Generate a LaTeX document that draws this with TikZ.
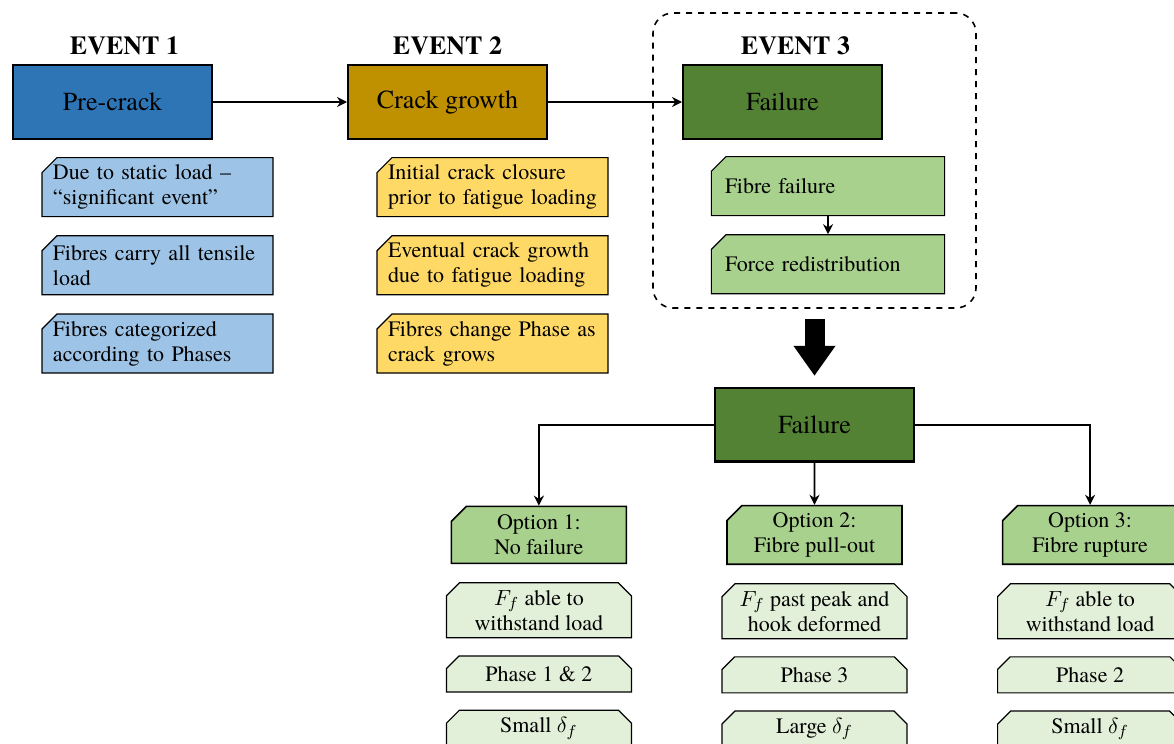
\documentclass[tikz,border=0pt]{standalone}
\usepackage{fontspec}
\setmainfont{texgyretermes}[Extension=.otf, UprightFont=*-regular, BoldFont=*-bold,
  ItalicFont=*-italic, BoldItalicFont=*-bolditalic]
\usepackage{xcolor}
\usepackage{tikz}
\usetikzlibrary{positioning,shapes.misc,arrows.meta,calc}

\definecolor{evblue}{HTML}{2E75B6}
\definecolor{evgold}{HTML}{BF9000}
\definecolor{evgreen}{HTML}{548235}
\definecolor{noteblue}{HTML}{9DC3E6}
\definecolor{noteyellow}{HTML}{FFD966}
\definecolor{notegreen}{HTML}{A9D18E}
\definecolor{itemgreen}{HTML}{E2F0D9}

\begin{document}
\begin{tikzpicture}[
  event/.style={rectangle, draw, line width=1.2pt, minimum width=99.3pt, minimum height=36.8pt,
                font=\fontsize{13}{15.6}\selectfont},
  evtitle/.style={inner sep=1pt, font=\fontsize{13}{15.6}\selectfont\bfseries},
  snip/.style={chamfered rectangle, chamfered rectangle xsep=4pt, chamfered rectangle ysep=3.5pt},
  note/.style={snip, chamfered rectangle corners={north west},
               draw, line width=0.6pt, text width=104.5pt, inner xsep=1.5pt, inner ysep=0pt,
               minimum height=29.5pt, align=left, font=\fontsize{11}{12.5}\selectfont},
  option/.style={snip, chamfered rectangle corners={north west},
                 draw, line width=0.8pt, fill=notegreen, minimum width=87.5pt, minimum height=28.5pt,
                 inner sep=0pt, align=center, font=\fontsize{11}{12.5}\selectfont},
  item/.style={snip, chamfered rectangle corners={north west,north east},
               chamfered rectangle ysep=2.5pt,
               draw, line width=0.6pt, fill=itemgreen, minimum width=92.5pt, minimum height=18pt,
               inner sep=0pt, align=center, font=\fontsize{11}{12.5}\selectfont},
  groupbox/.style={draw, dashed, line width=0.8pt, rounded corners=10pt},
  arr/.style={-{Stealth[length=5pt,width=5pt]}, line width=0.9pt},
  bigarr/.style={line width=10pt, -{Triangle[length=15pt,width=20pt]}}
]
\clip (0,0) rectangle (587pt,-372pt);

% the three events
\node[event, fill=evblue]  (pre)   at (56.25pt,-51pt) {Pre-crack};
\node[event, fill=evgold,  right=67pt of pre]   (crack) {Crack growth};
\node[event, fill=evgreen, right=67pt of crack] (fail)  {Failure};
\node[evtitle, above=3.5pt of pre, xshift=6pt]    (ev1) {EVENT 1};
\node[evtitle, above=3.5pt of crack]              (ev2) {EVENT 2};
\node[evtitle, above=3.5pt of fail, xshift=6.5pt] (ev3) {EVENT 3};
\draw[arr] (pre) -- (crack);
\draw[arr] (crack) -- (fail);

% notes under event 1
\node[note, fill=noteblue, below=8.5pt of pre.south, xshift=22.5pt] (pc1)
  {Due to static load --\\``significant event''};
\node[note, fill=noteblue, below=9pt of pc1] (pc2) {Fibres carry all tensile\\load};
\node[note, fill=noteblue, below=9pt of pc2] (pc3) {Fibres categorized\\according to Phases};

% notes under event 2
\node[note, fill=noteyellow, below=8.5pt of crack.south, xshift=22.5pt] (cg1)
  {Initial crack closure\\prior to fatigue loading};
\node[note, fill=noteyellow, below=9pt of cg1] (cg2) {Eventual crack growth\\due to fatigue loading};
\node[note, fill=noteyellow, below=9pt of cg2] (cg3) {Fibres change Phase as\\crack grows};

% notes under event 3
\node[note, fill=notegreen, text width=103pt, inner xsep=3pt,
      below=8pt of fail.south, xshift=22.75pt] (ffail) {Fibre failure};
\node[note, fill=notegreen, text width=103pt, inner xsep=3pt, below=9pt of ffail] (fredist)
  {Force redistribution};
\draw[arr] (ffail) -- (fredist);
\node[groupbox, minimum width=161.5pt, minimum height=147.5pt] (grp) at (407.25pt,-80.25pt) {};

% failure options
\node[event, fill=evgreen, below=39pt of grp] (fail2) {Failure};
\draw[bigarr] ([yshift=-5pt]grp.south) -- ([yshift=5.5pt]fail2.north);

\node[option, below=21pt of fail2]  (opt2) {Option 2:\\Fibre pull-out};
\node[option, left=49.5pt of opt2]  (opt1) {Option 1:\\No failure};
\node[option, right=49.5pt of opt2] (opt3) {Option 3:\\Fibre rupture};
\draw[arr] (fail2.west) -| (opt1.north);
\draw[arr] (fail2) -- (opt2);
\draw[arr] (fail2.east) -| (opt3.north);

\node[item, minimum height=27.5pt, below=9pt of opt1] (o1a) {$F_f$ able to\\withstand load};
\node[item, below=8.5pt of o1a] (o1b) {Phase 1 \& 2};
\node[item, below=8.5pt of o1b] (o1c) {Small $\delta_f$};

\node[item, minimum height=27.5pt, below=9pt of opt2] (o2a) {$F_f$ past peak and\\hook deformed};
\node[item, below=8.5pt of o2a] (o2b) {Phase 3};
\node[item, below=8.5pt of o2b] (o2c) {Large $\delta_f$};

\node[item, minimum height=27.5pt, below=9pt of opt3] (o3a) {$F_f$ able to\\withstand load};
\node[item, below=8.5pt of o3a] (o3b) {Phase 2};
\node[item, below=8.5pt of o3b] (o3c) {Small $\delta_f$};
\end{tikzpicture}
\end{document}
